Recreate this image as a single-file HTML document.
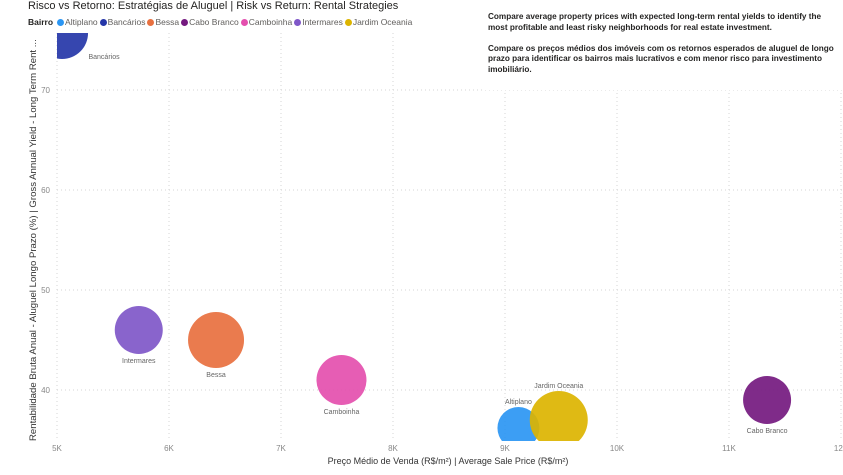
<!DOCTYPE html>
<html><head><meta charset="utf-8"><style>
body{margin:0;background:#fff;font-family:"Liberation Sans",sans-serif;}
#wrap{position:relative;width:843px;height:475px;overflow:hidden;}
#title{position:absolute;left:28px;top:0px;font-size:11px;line-height:12px;color:#252423;}
#legend{position:absolute;left:28px;top:17px;font-size:8.5px;color:#605e5c;white-space:nowrap;}
#legend b{color:#252423;margin-right:4px}
.li{margin-right:2px}.dot{display:inline-block;width:7px;height:7px;border-radius:50%;margin-right:1px;vertical-align:-1px}
#note{position:absolute;left:482px;top:10px;width:361px;height:80px;background:#fff;font-size:8.2px;font-weight:bold;color:#252423;padding:2px 4px 0 6px;box-sizing:border-box;line-height:10.5px}
</style></head><body><div id="wrap">
<div id="title">Risco vs Retorno: Estratégias de Aluguel | Risk vs Return: Rental Strategies</div>
<svg id="svg" width="843" height="475" style="position:absolute;left:0;top:0"></svg>
<div id="legend"><b>Bairro</b></div>
<div id="note">Compare average property prices with expected long-term rental yields to identify the most profitable and least risky neighborhoods for real estate investment.<br><br>Compare os preços médios dos imóveis com os retornos esperados de aluguel de longo prazo para identificar os bairros mais lucrativos e com menor risco para investimento imobiliário.</div>
</div>
<script>
const names=["Altiplano","Bancários","Bessa","Cabo Branco","Camboinha","Intermares","Jardim Oceania"];
const colors=["#2b96f3","#2536a8","#e8703f","#74197f","#e44fae","#7f57c8","#dcb400"];
const priceK=[9.12,5.045,6.42,11.34,7.54,5.73,9.48];
const yieldPct=[36.2,75.7,45,39,41,46,37];
const sizes=[21,26,28,24,25,24,29];
const labelAbove=[true,false,false,false,false,false,true];
const xTicks=[5,6,7,8,9,10,11,12];
const yTicks=[40,50,60,70];
const NS="http://www.w3.org/2000/svg";
const svg=document.getElementById('svg');
const X=v=>57+(v-5)*112, Y=v=>390-(v-40)*10;
const top0=33,bot=441,left=57,right=843;
function el(t,a,p){const e=document.createElementNS(NS,t);for(const k in a)e.setAttribute(k,a[k]);(p||svg).appendChild(e);return e;}
const defs=el('defs',{});const cp=el('clipPath',{id:'cp'},defs);el('rect',{x:left,y:top0,width:right-left,height:bot-top0},cp);
xTicks.forEach(t=>{const l=el('line',{x1:X(t),x2:X(t),y1:top0,y2:bot,stroke:'#d6d6d6','stroke-dasharray':'1,3'});

const tx=el('text',{x:X(t),y:451,'font-size':8,fill:'#888','text-anchor':'middle'});tx.textContent=t+'K';
});
yTicks.forEach(t=>{const l=el('line',{x1:left,x2:right,y1:Y(t),y2:Y(t),stroke:'#d6d6d6','stroke-dasharray':'1,3'});

const tx=el('text',{x:50,y:Y(t)+3,'font-size':8,fill:'#888','text-anchor':'end'});tx.textContent=t;
});
const g=el('g',{'clip-path':'url(#cp)'});
names.forEach((n,i)=>{const cx=X(priceK[i]),cy=Y(yieldPct[i]),r=sizes[i];
const c=el('circle',{cx,cy,r,fill:colors[i],'fill-opacity':0.92},g);

const t=el('text',{x:cx+(i==1?42:0),y:labelAbove[i]?cy-r-3:cy+r+9,'font-size':7,fill:'#666','text-anchor':'middle'},g);t.textContent=n;
if(i==1)t.setAttribute('y',59);

const lg=document.getElementById('legend');const s=document.createElement('span');s.className='li';
s.innerHTML='<span class="dot" style="background:'+colors[i]+'"></span>'+n;
lg.appendChild(s);});
const xt=el('text',{x:448,y:464,'font-size':9,fill:'#333','text-anchor':'middle'});xt.textContent='Preço Médio de Venda (R$/m²) | Average Sale Price (R$/m²)';

const yt=el('text',{x:0,y:0,'font-size':9.6,fill:'#333','text-anchor':'start',transform:'translate(36,441) rotate(-90)'});
yt.textContent='Rentabilidade Bruta Anual - Aluguel Longo Prazo (%) | Gross Annual Yield - Long Term Rent ...';

</script></body></html>
